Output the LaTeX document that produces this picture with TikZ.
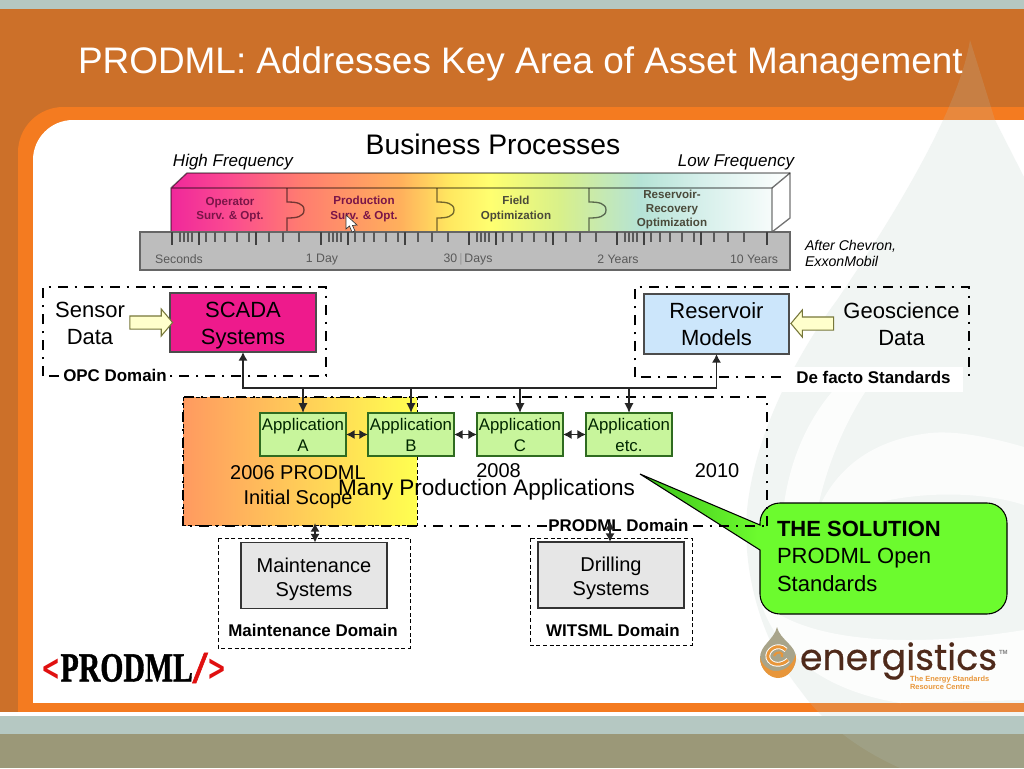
\documentclass[tikz,border=0pt]{standalone}
\usepackage{fontspec}
\usepackage{graphicx}
\setmainfont{Liberation Sans}
\newfontfamily\logoserif{Liberation Serif Bold}[FakeBold=1.2]
\newfontfamily\chevfont{DejaVu Sans Bold}
\newfontfamily\logosans{Poppins}[FakeBold=0.5]
\usetikzlibrary{arrows.meta,shapes.arrows,calc}
\definecolor{stripgrey}{HTML}{B5C8C2}
\definecolor{darkorange}{HTML}{CC7029}
\definecolor{brightorange}{HTML}{F47B20}
\definecolor{olive}{HTML}{9B9878}
\definecolor{rulergrey}{HTML}{BDBDBD}
\definecolor{scadapink}{HTML}{EE1A8C}
\definecolor{resblue}{HTML}{CCE6FB}
\definecolor{appgreen}{HTML}{C8F59C}
\definecolor{appedge}{HTML}{2F6B20}
\definecolor{sysgrey}{HTML}{E6E6E6}
\definecolor{arrowfill}{HTML}{FFFFCC}
\definecolor{arrowedge}{HTML}{77773A}
\definecolor{barink}{HTML}{7A1548}
\definecolor{barinkb}{HTML}{4A4A3A}
\definecolor{logobrown}{HTML}{4F2A1A}
\definecolor{logotan}{HTML}{A8A48A}
\definecolor{logoorange}{HTML}{E8963A}
\definecolor{logored}{HTML}{E01010}
\definecolor{scopea}{HTML}{FF9A60}
\definecolor{scopeb}{HTML}{FFFF50}
\pgfdeclarehorizontalshading{busbar}{100bp}{
 rgb(0bp)=(0.941,0.157,0.608);
 rgb(25bp)=(0.941,0.157,0.608);
 rgb(29.8bp)=(0.984,0.294,0.565);
 rgb(35.4bp)=(1,0.486,0.439);
 rgb(43.5bp)=(1,0.69,0.361);
 rgb(47.5bp)=(1,0.91,0.376);
 rgb(50.8bp)=(1,1,0.439);
 rgb(56.4bp)=(0.847,0.941,0.541);
 rgb(62.9bp)=(0.71,0.89,0.839);
 rgb(67.7bp)=(0.835,0.937,0.918);
 rgb(75bp)=(1,1,1);
 rgb(100bp)=(1,1,1)}
\pgfdeclarehorizontalshading{calloutfill}{100bp}{
 rgb(0bp)=(0.235,0.753,0.102);
 rgb(25bp)=(0.235,0.753,0.102);
 rgb(41bp)=(0.424,0.984,0.18);
 rgb(100bp)=(0.424,0.984,0.18)}
\tikzset{
 every node/.style={inner sep=0pt,outer sep=0pt,align=center},
 bigtext/.style={font=\fontsize{16.5}{20.2}\selectfont},
 midtext/.style={font=\fontsize{15}{18}\selectfont},
 domlabel/.style={font=\fontsize{12.7}{15}\selectfont\bfseries},
 apptext/.style={font=\fontsize{12.6}{15.75}\selectfont,text=black!70!green!50!black},
 barlabel/.style={font=\fontsize{8.7}{10.6}\selectfont\bfseries,text=barink},
 barlabelb/.style={font=\fontsize{8.7}{10.6}\selectfont\bfseries,text=barinkb},
 rulerlabel/.style={font=\fontsize{9.2}{11}\selectfont,text=black!65},
 noteital/.style={font=\fontsize{12.75}{15}\selectfont\itshape},
 dashbox/.style={draw=black,line width=1.5pt,dash pattern=on 7.5pt off 5pt on 2pt off 5pt},
 thindash/.style={draw=black,line width=0.7pt,dash pattern=on 3pt off 2pt},
 barline/.style={draw=black,draw opacity=0.55,line width=1pt},
 sysbox/.style={draw=black!80,fill=sysgrey,line width=0.8pt,minimum width=146*0.75pt,minimum height=66*0.75pt,midtext},
 appbox/.style={draw=appedge,fill=appgreen,line width=0.8pt,minimum width=86*0.75pt,minimum height=43*0.75pt,apptext},
 linkline/.style={draw=black!85,line width=1.3pt},
 bothtips/.style={{Latex[length=6.5pt,width=7pt]}-{Latex[length=6.5pt,width=7pt]}},
 downtip/.style={-{Latex[length=7.5pt,width=7pt]}},
 blockarrow/.style={single arrow,draw=arrowedge,fill=arrowfill,line width=0.8pt,single arrow tip angle=100,single arrow head extend=5.25pt,single arrow head indent=0pt,minimum width=19.5pt,minimum height=32pt,inner xsep=0pt,inner ysep=4.5pt},
}
\begin{document}
\begin{tikzpicture}[x=0.75pt,y=-0.75pt]
\useasboundingbox (0,0) rectangle (1024,768);
% --- background
\fill[white] (0,0) rectangle (1024,768);
\fill[stripgrey] (0,0) rectangle (1024,9);
\fill[darkorange] (0,9) rectangle (1024,712);
\fill[brightorange,rounded corners=34pt] (18,107) rectangle (1100,760);
\fill[white,rounded corners=30pt] (33,120) rectangle (1100,740);
\fill[brightorange] (18,703) rectangle (1024,712);
\fill[white] (0,712) rectangle (1024,716);
\fill[stripgrey] (0,716) rectangle (1024,734);
\fill[olive] (0,734) rectangle (1024,768);
% --- watermark
\fill[stripgrey,opacity=0.18] (970,40) .. controls (962,90) and (925,170) .. (837,300) .. controls (800,350) and (755,430) .. (747,510) .. controls (742,570) and (760,640) .. (800,690) .. controls (825,725) and (860,750) .. (900,768) -- (1024,768) -- (1024,177) -- (995,120) -- cycle;
\fill[white,opacity=0.8] (783,512) .. controls (790,450) and (815,410) .. (838,385) -- (870,385) .. controls (845,420) and (825,470) .. (817,512) -- cycle;
\fill[white,opacity=0.75] (817,512) .. controls (835,470) and (870,440) .. (930,433) .. controls (960,430) and (1000,440) .. (1024,447) -- (1024,505) .. controls (980,490) and (900,490) .. (850,512) -- cycle;
\fill[white,opacity=0.8] (760,600) .. controls (800,640) and (900,650) .. (1024,630) -- (1024,700) -- (900,703) .. controls (820,690) and (775,650) .. (760,600) -- cycle;
% --- title
\node[anchor=west,text=white,font=\fontsize{27.7}{32}\selectfont] (title) at (78,64) {PRODML: Addresses Key Area of Asset Management};
\node[font=\fontsize{21.2}{25}\selectfont] (bp) at (493,144) {Business Processes};
\node[noteital] (hf) at (233,162.5) {High Frequency};
\node[noteital] (lf) at (736,162.5) {Low Frequency};
% --- process bar
\begin{scope}
\clip (171,188) -- (187,173) -- (790,173) -- (772,188) -- (772,232) -- (171,232) -- cycle;
\shade[shading=busbar] (171,173) rectangle (790,232);
\end{scope}
\fill[white] (772,188) -- (790,173) -- (790,218) -- (772,232) -- cycle;
\draw[barline] (171,232) -- (171,188) -- (187,173) -- (790,173) -- (790,218) -- (772,232) -- (772,188) -- (171,188);
\draw[barline] (772,188) -- (790,173);
\foreach \d in {287,437,589}{
 \draw[barline] (\d,188) -- (\d,202) .. controls (\d+9,202) and (\d+17,203) .. (\d+17,210) .. controls (\d+17,217) and (\d+9,218) .. (\d,218) -- (\d,232);
}
\node[barlabel] (op) at (230,210) {Operator\\Surv. \& Opt.};
\node[barlabel] (pr) at (364,209) {Production\\Surv. \& Opt.};
\node[barlabelb] (fi) at (516,209) {Field\\Optimization};
\node[barlabelb] (re) at (672,209.5) {Reservoir-\\Recovery\\Optimization};
% --- ruler
\draw[draw=black!60,fill=rulergrey,line width=0.8pt] (140,232) rectangle (790,270);
\foreach \s in {172,321,469,617}{
 \foreach \o in {0,8,12,16,20,34,43,53,65,77,97,111,127}{
  \draw[black!65,line width=0.9pt] (\s+\o,232) -- (\s+\o,242);
 }
 \foreach \o in {0,27,84}{
  \draw[black!75,line width=0.9pt] (\s+\o,232) -- (\s+\o,245);
 }
}
\draw[black!75,line width=0.9pt] (767,232) -- (767,245);
\node[rulerlabel] (r1) at (179,259.5) {Seconds};
\node[rulerlabel] (r2) at (322,259.5) {1 Day};
\node[rulerlabel] (r3) at (468,259.5) {30\,{\color{black!40}|}\,Days};
\node[rulerlabel] (r4) at (618,259.5) {2 Years};
\node[rulerlabel] (r5) at (754,259.5) {10 Years};
\node[anchor=west,font=\fontsize{10.6}{13}\selectfont\itshape] (after) at (805,255) {\begin{tabular}{@{}l@{}}After Chevron,\\[-0.5pt]ExxonMobil\end{tabular}};
% --- cursor
\draw[fill=white,draw=black!80,line width=0.5pt] (346,215) -- (346,229) -- (349.5,226) -- (352,232) -- (355,231) -- (352.5,225.5) -- (357,225) -- cycle;
% --- callout (under the domain box)
\shadedraw[shading=calloutfill,draw=black,line width=0.8pt] (760,580) [rounded corners=15pt] -- (760,614) -- (1007,614) -- (1007,503) -- (760,503) [sharp corners] -- (760,525) -- (640,474) -- (760,550) -- cycle;
\node[anchor=west,font=\fontsize{16.5}{20.6}\selectfont,align=left] (solution) at (777,556) {\textbf{THE SOLUTION}\\PRODML Open\\Standards};
% --- orange scope + domains
\draw[thindash,left color=scopea,right color=scopeb] (183,397) rectangle (417,525);
\draw[dashbox] (767,526) -- (767,397) -- (183,397) -- (183,526) -- (767,526);
\draw[dashbox] (43,376) -- (43,287) -- (326,287) -- (326,376) -- cycle;
\draw[dashbox] (635,377) -- (635,287) -- (969,287) -- (969,377) -- cycle;
\fill[white] (782,367) rectangle (963,392);
\draw[thindash] (218,538) rectangle (410,648);
\draw[thindash] (530,538) rectangle (692,645);
% --- top boxes
\node[draw=black!70,fill=scadapink,line width=0.8pt,minimum width=146*0.75pt,minimum height=59*0.75pt,bigtext] (scada) at (243,322.5) {\rule{0pt}{16.5pt}SCADA\\Systems};
\node[draw=black!70,fill=resblue,line width=0.8pt,minimum width=145*0.75pt,minimum height=60*0.75pt,bigtext] (reservoir) at (716.5,324) {Reservoir\\Models};
\node[bigtext] (sensor) at (90,323.5) {Sensor\\Data};
\node[bigtext] (geo) at (901.5,324.5) {Geoscience\\Data};
\node[blockarrow] (sarrow) at (148.5,322.5) {};
\node[blockarrow,shape border rotate=180] (garrow) at (815,323.5) {};
% --- labels with white ground
\node[domlabel,fill=white,inner xsep=1pt,inner ysep=1pt] (opc) at (115,375) {OPC Domain};
\node[domlabel] (defacto) at (873.5,377) {De facto Standards};
\node[domlabel,fill=white,inner xsep=1pt,inner ysep=1pt] (prodmldom) at (618.5,525) {PRODML Domain};
\node[domlabel] (maintdom) at (313,630) {Maintenance Domain};
\node[domlabel] (witsmldom) at (613,630) {WITSML Domain};
% --- applications
\node[appbox] (appa) at (303,434.5) {Application\\A};
\node[appbox] (appb) at (411,434.5) {Application\\B};
\node[appbox] (appc) at (520,434.5) {Application\\C};
\node[appbox] (appd) at (629,434.5) {Application\\etc.};
% --- connectors
\coordinate (bus) at (243,388);
\draw[linkline,bothtips] (scada.south) -- (scada.south |- bus) -- (reservoir.south |- bus) -- (reservoir.south);
\foreach \n in {appa,appb,appc,appd}{
 \draw[linkline,downtip] (\n.north |- bus) -- (\n.north);
}
\draw[linkline,bothtips] (appa.east) -- (appb.west);
\draw[linkline,bothtips] (appb.east) -- (appc.west);
\draw[linkline,bothtips] (appc.east) -- (appd.west);
% --- lower boxes
\node[sysbox] (maint) at (314,575.5) {\rule{0pt}{16.2pt}Maintenance\\Systems};
\node[sysbox] (drill) at (611,575) {\rule{0pt}{16.2pt}Drilling\\Systems};
\coordinate (domlowa) at (315,523);
\coordinate (domlowb) at (610,521);
\draw[linkline,bothtips] (domlowa) -- (maint.north -| domlowa);
\draw[linkline,bothtips] (domlowb) -- (drill.north -| domlowb);
% --- middle texts
\node[font=\fontsize{15}{18.6}\selectfont] (scope) at (298,487) {2006 PRODML\\Initial Scope};
\node[font=\fontsize{16.9}{20}\selectfont] (many) at (486.5,490) {Many Production Applications};
\node[midtext] (y08) at (498.5,471) {2008};
\node[midtext] (y10) at (717,471) {2010};
% --- PRODML logo
\node[anchor=center,font=\logoserif\fontsize{31}{34}\selectfont] (logo) at (134,668) {\scalebox{0.72}[1]{\raisebox{1pt}{\scalebox{0.88}[1]{\chevfont\fontsize{27}{27}\selectfont\color{logored}<}}PRODML\raisebox{-1pt}{\scalebox{1.75}[1.1]{\color{logored}/}}\raisebox{1pt}{\scalebox{0.88}[1]{\chevfont\fontsize{27}{27}\selectfont\color{logored}>}}}};
% --- energistics logo
\fill[logotan] (777,627) .. controls (774,640) and (760,645) .. (760,658) .. controls (760,668) and (768,677) .. (778,677) .. controls (788,677) and (796,668) .. (796,658) .. controls (796,645) and (780,640) .. (777,627) -- cycle;
\fill[logoorange] (760,657) .. controls (760,670) and (770,678) .. (778,678) .. controls (788,678) and (797,668) .. (796,654) .. controls (793,665) and (785,671) .. (776,671) .. controls (768,671) and (762,665) .. (760,657) -- cycle;
\draw[white,line width=3.6pt] (786,650) .. controls (778,642) and (766,650) .. (768,658) .. controls (771,666) and (782,666) .. (788,660);
\draw[logoorange,line width=2.2pt] (786,650) .. controls (778,642) and (766,650) .. (768,658) .. controls (771,666) and (782,666) .. (788,660);
\draw[logoorange,line width=1.6pt] (774,656) .. controls (777,650) and (784,652) .. (782,657);
\node[anchor=west,text=logobrown,font=\logosans\fontsize{27.2}{30}\selectfont] (energ) at (800,661) {energistics};
\node[anchor=west,text=black!50,font=\fontsize{4.5}{5}\selectfont\bfseries] (tm) at (999,652.5) {TM};
\node[anchor=west,text=logoorange,font=\fontsize{5.6}{6.3}\selectfont\bfseries,align=left] (tag) at (910,683) {The Energy Standards\\Resource Centre};
\end{tikzpicture}
\end{document}
